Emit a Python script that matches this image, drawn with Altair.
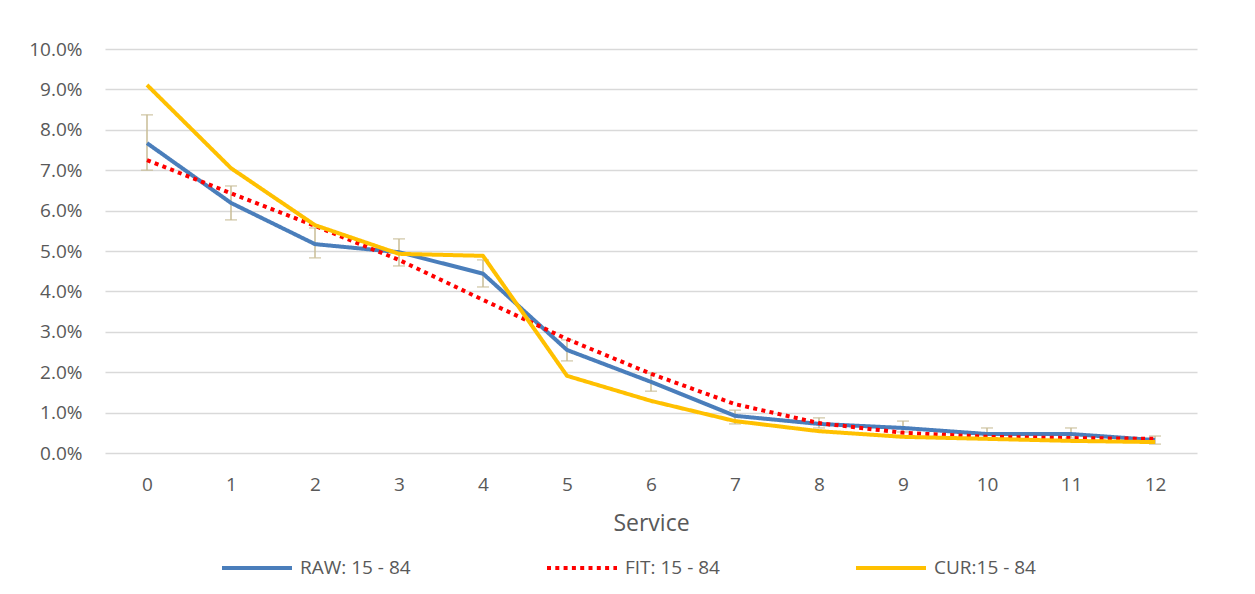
import altair as alt
import pandas as pd

service = list(range(13))
raw = [7.67, 6.19, 5.17, 4.97, 4.44, 2.55, 1.76, 0.92, 0.72, 0.62, 0.47, 0.47, 0.32]
fit = [7.25, 6.43, 5.62, 4.78, 3.79, 2.82, 1.96, 1.21, 0.74, 0.50, 0.40, 0.37, 0.35]
cur = [9.11, 7.05, 5.64, 4.93, 4.88, 1.91, 1.29, 0.79, 0.54, 0.40, 0.35, 0.30, 0.27]
err_hi = [8.37, 6.61, 5.57, 5.30, 4.78, 2.80, 1.98, 1.06, 0.87, 0.79, 0.62, 0.62, 0.42]
err_lo = [7.00, 5.77, 4.83, 4.63, 4.11, 2.28, 1.53, 0.72, 0.62, 0.52, 0.37, 0.37, 0.22]
series_names = ["RAW: 15 - 84", "FIT: 15 - 84", "CUR:15 - 84"]
series_colors = ["#4A7EBB", "#FF0000", "#FFC000"]
series_dash = [[1, 0], [4, 4.3], [1, 0]]

rows = []
for name, vals in zip(series_names, [raw, fit, cur]):
    for s, v in zip(service, vals):
        rows.append({"Service": s, "value": v / 100, "series": name})
lines_df = pd.DataFrame(rows)
err_df = pd.DataFrame({"Service": service,
                       "hi": [v / 100 for v in err_hi],
                       "lo": [v / 100 for v in err_lo]})

FONT = "Open Sans, DejaVu Sans, sans-serif"
GRAY = "#595959"

xscale = alt.Scale(domain=[-0.5, 12.5], nice=False, zero=False)
yscale = alt.Scale(domain=[0, 0.10], nice=False)

x_axis = alt.Axis(values=service, format="d", grid=False, domain=False, ticks=False,
                  labelPadding=22, labelFontSize=19, labelColor=GRAY, labelFont=FONT,
                  title="Service", titleFontSize=23, titleColor=GRAY, titleFont=FONT,
                  titleFontWeight="normal", titlePadding=18)
y_axis = alt.Axis(values=[i / 100 for i in range(11)], format=".1%", grid=True,
                  gridColor="#D9D9D9", gridWidth=1.5, domain=False, ticks=False,
                  labelPadding=23, labelFontSize=19, labelColor=GRAY, labelFont=FONT,
                  title=None)

err_color = "#C8BC96"
err_rule = alt.Chart(err_df).mark_rule(color=err_color, strokeWidth=1.5).encode(
    x=alt.X("Service:Q", scale=xscale, axis=x_axis),
    y=alt.Y("lo:Q", scale=yscale, axis=y_axis),
    y2="hi:Q",
)
cap_hi = alt.Chart(err_df).mark_tick(color=err_color, thickness=1.5, size=12, orient="horizontal").encode(
    x=alt.X("Service:Q", scale=xscale), y=alt.Y("hi:Q", scale=yscale))
cap_lo = alt.Chart(err_df).mark_tick(color=err_color, thickness=1.5, size=12, orient="horizontal").encode(
    x=alt.X("Service:Q", scale=xscale), y=alt.Y("lo:Q", scale=yscale))

legend = alt.Legend(title=None, orient="none", legendX=115, legendY=482, direction="horizontal",
                    symbolType="stroke", symbolSize=4900, symbolStrokeWidth=4,
                    labelFontSize=19, labelColor=GRAY, labelFont=FONT, labelLimit=300,
                    columnPadding=128, labelOffset=6, padding=0)

lines = alt.Chart(lines_df).mark_line(strokeWidth=4, strokeJoin="round").encode(
    x=alt.X("Service:Q", scale=xscale),
    y=alt.Y("value:Q", scale=yscale),
    color=alt.Color("series:N", scale=alt.Scale(domain=series_names, range=series_colors),
                    legend=legend, sort=series_names),
    strokeDash=alt.StrokeDash("series:N", scale=alt.Scale(domain=series_names, range=series_dash),
                              legend=legend, sort=series_names),
    order=alt.Order("Service:Q"),
)

chart = alt.layer(err_rule, cap_hi, cap_lo, lines).properties(
    width=1092, height=404,
    autosize=alt.AutoSizeParams(type="none"),
    padding={"left": 97, "top": 41, "right": 40, "bottom": 133},
).configure(background="white").configure_view(stroke=None)

chart.save("out.html", embed_options={"renderer": "svg", "actions": False})
